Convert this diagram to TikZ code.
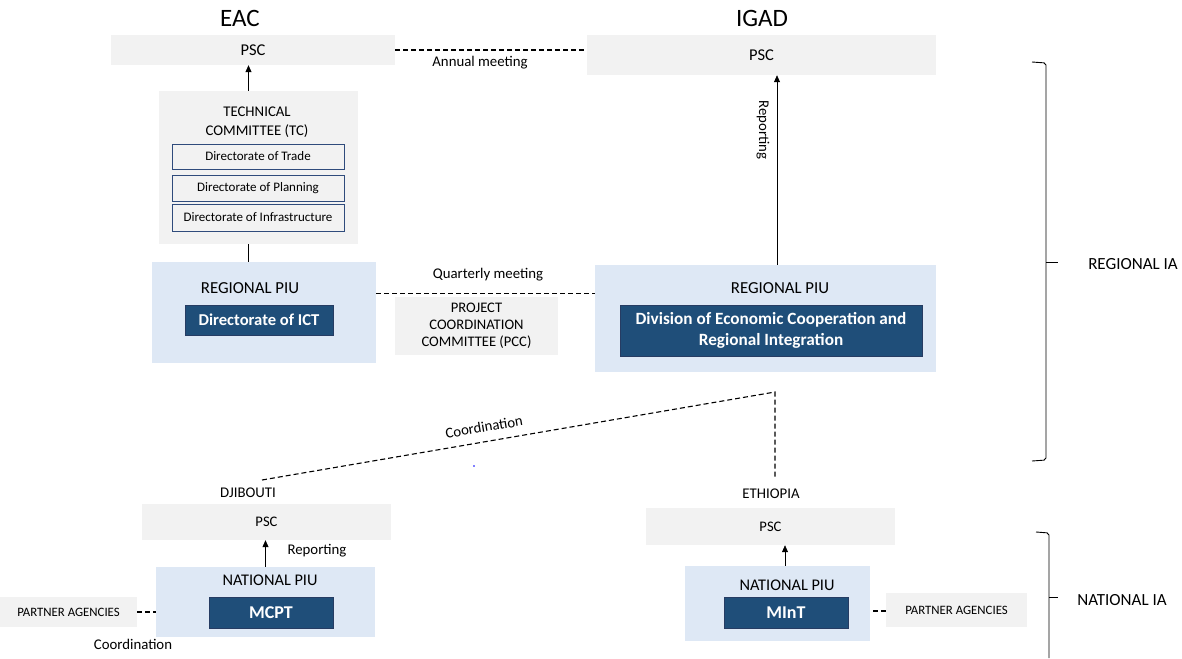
\documentclass[tikz,border=0pt]{standalone}
\usepackage{fontspec}
\setmainfont{Carlito}
\usetikzlibrary{arrows.meta,positioning}

\definecolor{boxgray}{HTML}{F2F2F2}
\definecolor{piublue}{HTML}{DEE8F5}
\definecolor{darkblue}{HTML}{1F4E79}
\definecolor{framblue}{HTML}{2F4B7C}

\tikzset{
  graybox/.style={fill=boxgray, inner sep=0pt, align=center, font=\fontsize{14.6}{17}\selectfont},
  piubox/.style={fill=piublue, inner sep=0pt},
  darkbox/.style={fill=darkblue, draw=framblue!80!black, text=white, inner sep=0pt, align=center, font=\bfseries\fontsize{16.6}{21}\selectfont},
  dirbox/.style={draw=framblue, line width=0.8pt, inner sep=0pt, font=\fontsize{13}{15}\selectfont},
  lbl/.style={font=\fontsize{14.8}{19}\selectfont, align=center},
  meet/.style={dash pattern=on 5pt off 3pt, line width=1.1pt},
  up/.style={-{Triangle[length=7pt,width=6pt]}, line width=0.7pt},
}

\begin{document}
\begin{tikzpicture}[x=1pt, y=-1pt]
\useasboundingbox (0,0) rectangle (1182,658);

% Headings
\node[font=\fontsize{25}{28}\selectfont] (eac) at (240,18) {EAC};
\node[font=\fontsize{25}{28}\selectfont] (igad) at (762,18) {IGAD};

% EAC side
\node[graybox, minimum width=284pt, minimum height=30pt, font=\fontsize{16.5}{18}\selectfont] (epsc) at (253,50) {PSC};
\node[graybox, minimum width=199pt, minimum height=153pt] (tc) at (258.5,167.5) {};
\node[lbl] (tctitle) at (257,122) {TECHNICAL\\COMMITTEE (TC)};
\node[dirbox, minimum width=172pt, minimum height=25pt] (dtrade) at (258,156.5) {Directorate of Trade};
\node[dirbox, minimum width=172pt, minimum height=26pt] (dplan) at (258,188) {Directorate of Planning};
\node[dirbox, minimum width=172pt, minimum height=27pt] (dinfra) at (258,217.5) {Directorate of Infrastructure};

\node[piubox, minimum width=224pt, minimum height=101pt] (epiu) at (264,312.5) {};
\node[lbl, font=\fontsize{16.8}{19}\selectfont] (epiutitle) at (250,288) {REGIONAL PIU};
\node[darkbox, minimum width=148pt, minimum height=30pt] (ict) at (259,320) {Directorate of ICT};

% IGAD side
\node[graybox, minimum width=349pt, minimum height=40pt, font=\fontsize{16.5}{18}\selectfont] (ipsc) at (761.5,55) {PSC};
\node[piubox, minimum width=341pt, minimum height=107pt] (ipiu) at (765.5,318.5) {};
\node[lbl, font=\fontsize{16.8}{19}\selectfont] (ipiutitle) at (780,288) {REGIONAL PIU};
\node[darkbox, minimum width=302pt, minimum height=51pt, font=\bfseries\fontsize{17.2}{21}\selectfont] (decri) at (771,330.5) {Division of Economic Cooperation and\\Regional Integration};

% Between the two
\node[graybox, minimum width=163pt, minimum height=58pt] (pcc) at (476.5,326) {PROJECT\\COORDINATION\\COMMITTEE (PCC)};
\draw[meet] (epsc.east) -- (epsc.east -| ipsc.west);
\node[lbl] (annual) at (480,63) {Annual meeting};
\draw[meet] ([yshift=19pt]epiu.east) -- ([yshift=19pt]epiu.east -| ipiu.west);
\node[lbl] (quarter) at (488,275) {Quarterly meeting};

% Reporting lines
\draw[up] ([xshift=-10pt]tc.north) -- ([xshift=-10pt]tc.north |- epsc.south);
\draw[line width=0.7pt] ([xshift=-10pt]tc.south) -- ([xshift=-10pt]tc.south |- epiu.north);
\draw[up] ([xshift=11.5pt]ipiu.north) -- ([xshift=11.5pt]ipiu.north |- ipsc.south);
\node[lbl, rotate=-90] (igadrep) at (763,130) {Reporting};

% Coordination between IGAD and countries
\coordinate (corner) at (775,392);
\coordinate (djtop) at (262,480);
\coordinate (ettop) at (775,478);
\draw[meet] (djtop) -- (corner) -- (ettop);
\node[lbl, rotate=9.6] (coord) at (484,427) {Coordination};
\fill[blue] (474,466) circle (0.8pt);

% Djibouti
\node[lbl] (djlabel) at (248,493) {DJIBOUTI};
\node[graybox, minimum width=249pt, minimum height=36pt] (djpsc) at (266.5,522) {PSC};
\node[piubox, minimum width=219pt, minimum height=70pt] (djpiu) at (265.5,602) {};
\node[lbl, font=\fontsize{16.3}{19}\selectfont] (djpiutitle) at (270,580) {NATIONAL PIU};
\node[darkbox, minimum width=124pt, minimum height=31pt, font=\bfseries\fontsize{18}{20}\selectfont] (mcpt) at (271,612.5) {MCPT};
\draw[up] (djpiu.north) -- (djpiu.north |- djpsc.south);
\node[lbl] (djrep) at (317,551) {Reporting};
\node[graybox, minimum width=137pt, minimum height=30pt, font=\fontsize{12.8}{15}\selectfont] (djpart) at (68.5,612) {PARTNER AGENCIES};
\draw[meet] (djpart.east) -- (djpart.east -| djpiu.west);
\node[lbl] (djcoord) at (133,644) {Coordination};

% Ethiopia
\node[lbl] (etlabel) at (771,494) {ETHIOPIA};
\node[graybox, minimum width=249pt, minimum height=37pt] (etpsc) at (770.5,526.5) {PSC};
\node[piubox, minimum width=185pt, minimum height=75pt] (etpiu) at (777.5,603.5) {};
\node[lbl, font=\fontsize{16.3}{19}\selectfont] (etpiutitle) at (787,585) {NATIONAL PIU};
\node[darkbox, minimum width=124pt, minimum height=31pt, font=\bfseries\fontsize{18}{20}\selectfont] (mint) at (786,612.5) {MInT};
\draw[up] ([xshift=7.5pt]etpiu.north) -- ([xshift=7.5pt]etpiu.north |- etpsc.south);
\node[graybox, minimum width=141pt, minimum height=34pt, font=\fontsize{12.8}{15}\selectfont] (etpart) at (956.5,610) {PARTNER AGENCIES};
\draw[meet] ([yshift=-1pt]etpart.west) -- ([yshift=-1pt]etpart.west -| etpiu.east);

% Braces
\draw[line width=0.9pt, rounded corners=2pt] (1032,62) -- (1046,63) -- (1046,460) -- (1032,461);
\draw[line width=0.9pt] (1046,262) -- (1058,262);
\node[font=\fontsize{17}{19}\selectfont] (regia) at (1133,264) {REGIONAL IA};
\draw[line width=0.9pt, rounded corners=2pt] (1036,532) -- (1049,533) -- (1049,658);
\draw[line width=0.9pt] (1049,597) -- (1058,597);
\node[font=\fontsize{17}{19}\selectfont] (natia) at (1122,600) {NATIONAL IA};

\end{tikzpicture}
\end{document}
